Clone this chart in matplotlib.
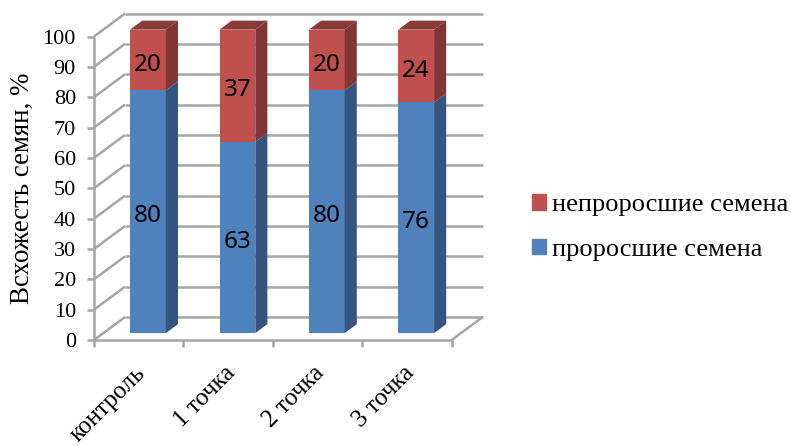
import matplotlib
matplotlib.use("Agg")
import matplotlib.pyplot as plt
from matplotlib.patches import Patch

categories = ["контроль", "1 точка", "2 точка", "3 точка"]
sprouted = [80, 63, 80, 76]
not_sprouted = [20, 37, 20, 24]
yticks = [0, 10, 20, 30, 40, 50, 60, 70, 80, 90, 100]

BLUE, BLUE_SIDE = "#4F81BD", "#34557F"
RED, RED_SIDE, RED_TOP = "#C0504D", "#7F3634", "#8A3B39"
GRID = "#A6A6A6"

# oblique projection: depth of the floor in axis units
DX, DY = 0.347, 7.57
BAR_W = 0.40
BAR_D0, BAR_D1 = 0.30, 0.69

plt.rcParams["font.family"] = ["Liberation Serif", "DejaVu Serif"]
fig = plt.figure(figsize=(7.91, 4.46), dpi=100)
W, H = 791, 446
ax = fig.add_axes([94 / W, 1 - 340 / H, (451.6 - 94) / W, (340 - 36.5) / H])
ax.set_xlim(0, 4)
ax.set_ylim(0, 100)
for s in ax.spines.values():
    s.set_visible(False)


def gridline(xs, ys):
    ax.plot(xs, ys, color=GRID, lw=1.8, zorder=1, clip_on=False, solid_capstyle="butt")


# walls and floor
for v in yticks:
    gridline([0, DX], [v, v + DY])
    gridline([DX, 4 + DX], [v + DY, v + DY])
gridline([0, 0], [0, 100])
gridline([0, 4], [0, 0])
gridline([4, 4 + DX], [0, DY])

ax.set_xticks(range(5))
ax.set_xticklabels([])
ax.set_yticks(yticks)
ax.set_yticklabels([str(v) for v in yticks], fontsize=16)
ax.tick_params(axis="both", color=GRID, width=1.8, length=5)
ax.tick_params(axis="y", pad=8)

# bars
for i, cat in enumerate(categories):
    x0 = i + 0.5 + BAR_D0 * DX - BAR_W / 2
    x1 = x0 + BAR_W
    base = BAR_D0 * DY
    sd = (BAR_D1 - BAR_D0) * DX
    sh = (BAR_D1 - BAR_D0) * DY
    a, b = sprouted[i], not_sprouted[i]
    ax.bar(x0, a, BAR_W, bottom=base, align="edge", color=BLUE, zorder=3, clip_on=False)
    ax.bar(x0, b, BAR_W, bottom=base + a, align="edge", color=RED, zorder=3, clip_on=False)
    ax.fill([x1, x1 + sd, x1 + sd, x1], [base, base + sh, base + a + sh, base + a],
            color=BLUE_SIDE, lw=0, zorder=3, clip_on=False)
    ax.fill([x1, x1 + sd, x1 + sd, x1], [base + a, base + a + sh, base + a + b + sh, base + a + b],
            color=RED_SIDE, lw=0, zorder=3, clip_on=False)
    top = base + a + b
    ax.fill([x0, x0 + sd, x1 + sd, x1], [top, top + sh, top + sh, top],
            color=RED_TOP, lw=0, zorder=3, clip_on=False)
    xc = (x0 + x1) / 2
    ax.text(xc, base + a / 2 - 1.5, str(a), ha="center", va="center", fontsize=17.5,
            family="Noto Sans", color="black", zorder=5)
    ax.text(xc, base + a + b / 2 - 1.5, str(b), ha="center", va="center", fontsize=17.5,
            family="Noto Sans", color="black", zorder=5)
    ax.annotate(cat, xy=(i + 0.5, 0), xytext=(-3, -16), textcoords="offset points",
                rotation=45, rotation_mode="anchor", ha="right", va="top", fontsize=18,
                annotation_clip=False)

fig.text(22 / W, 1 - 188 / H, "Всхожесть семян, %", rotation=90, ha="center", va="center", fontsize=19.4)

handles = [Patch(color=RED, label="непроросшие семена"), Patch(color=BLUE, label="проросшие семена")]
fig.legend(handles=handles, loc="upper left", bbox_to_anchor=(532 / W, 1 - 194 / H), frameon=False,
           fontsize=19, borderpad=0, borderaxespad=0, handlelength=0.54, handleheight=0.54,
           handletextpad=0.23, labelspacing=0.85)

fig.savefig("out.png", dpi=100)
